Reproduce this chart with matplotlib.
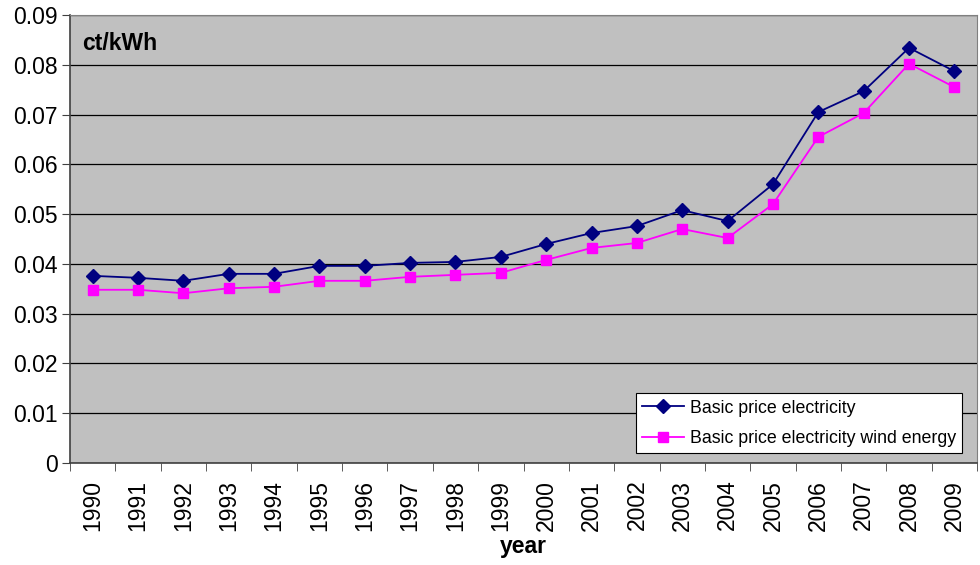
import matplotlib.pyplot as plt
import numpy as np

plt.rcParams['font.family'] = ['Liberation Sans', 'DejaVu Sans']

# Data
years = [str(y) for y in range(1990, 2010)]
basic_price = [0.0376, 0.0372, 0.0366, 0.0380, 0.0380, 0.0396, 0.0396, 0.0402, 0.0404, 0.0414,
               0.0440, 0.0462, 0.0476, 0.0508, 0.0486, 0.0560, 0.0705, 0.0747, 0.0834, 0.0787]
wind_price = [0.0348, 0.0348, 0.0341, 0.0351, 0.0354, 0.0366, 0.0366, 0.0374, 0.0378, 0.0382,
              0.0408, 0.0432, 0.0442, 0.0470, 0.0452, 0.0520, 0.0655, 0.0703, 0.0802, 0.0755]
y_ticks = [0, 0.01, 0.02, 0.03, 0.04, 0.05, 0.06, 0.07, 0.08, 0.09]
y_labels = ['0', '0.01', '0.02', '0.03', '0.04', '0.05', '0.06', '0.07', '0.08', '0.09']

fig = plt.figure(figsize=(9.8, 5.65), dpi=100)
ax = fig.add_axes([0.0714, 0.1805, 0.9256, 0.793])
ax.set_facecolor('#C0C0C0')

x = np.arange(len(years))
ax.plot(x, basic_price, color='#000080', marker='D', markersize=7, linewidth=1.3,
        label='Basic price electricity', zorder=3)
ax.plot(x, wind_price, color='#FF00FF', marker='s', markersize=7.5, linewidth=1.3,
        label='Basic price electricity wind energy', zorder=3)

ax.set_xlim(-0.5, len(years) - 0.5)
ax.set_ylim(0, 0.09)
ax.set_yticks(y_ticks)
ax.set_yticklabels(y_labels, fontsize=16.5)
ax.set_xticks(x)
ax.set_xticklabels(years, rotation=90, fontsize=16.5)
ax.tick_params(axis='x', length=0, pad=12)
ax.set_xticks(np.arange(-0.5, len(years)), minor=True)
ax.tick_params(axis='x', which='minor', length=6, color='#404040')
ax.tick_params(axis='y', length=6, color='#404040', pad=3)

ax.grid(axis='y', color='black', linewidth=0.9)
ax.set_axisbelow(True)
for side in ['left', 'bottom']:
    ax.spines[side].set_color('#404040')
    ax.spines[side].set_linewidth(1.2)
for side in ['top', 'right']:
    ax.spines[side].set_color('#808080')

ax.text(0.013, 0.937, 'ct/kWh', transform=ax.transAxes, fontsize=16.5, fontweight='bold',
        va='center', ha='left')
ax.set_xlabel('year', fontsize=16.5, fontweight='bold', labelpad=3)

leg = ax.legend(loc='lower right', bbox_to_anchor=(0.9835, 0.022), fontsize=12.8,
                fancybox=False, framealpha=1, edgecolor='black', borderpad=0.35,
                handlelength=2.4, handletextpad=0.3, labelspacing=0.75, borderaxespad=0)
leg.get_frame().set_linewidth(0.8)

plt.savefig('out.png', dpi=100)
